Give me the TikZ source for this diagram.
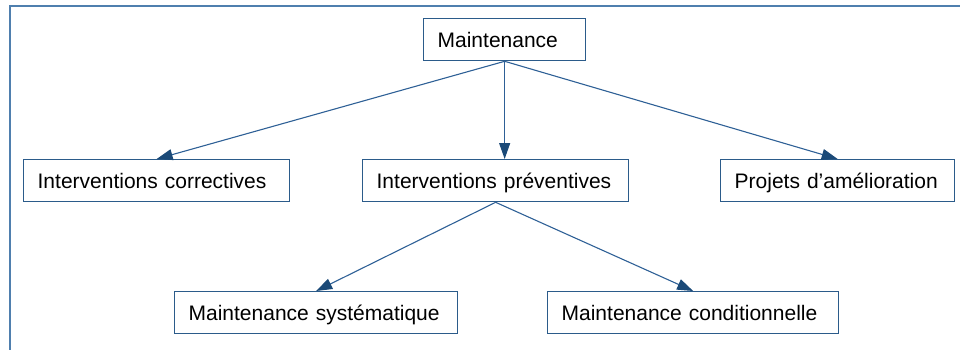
\documentclass[tikz,border=0pt]{standalone}
\usepackage{fontspec}
\setmainfont{Liberation Sans}
\usetikzlibrary{arrows.meta}
\definecolor{framecol}{HTML}{4F7FAE}
\definecolor{boxcol}{HTML}{2B5B8A}
\definecolor{linkcol}{HTML}{2E6096}
\definecolor{tipcol}{HTML}{1B4A78}
\tikzset{
  box/.style={draw=boxcol, line width=1.3pt, fill=white, anchor=north west,
    align=left, inner xsep=14pt, inner ysep=0pt, minimum height=42pt,
    font=\fontsize{21}{25}\selectfont, text height=18pt, text depth=2pt},
  link/.style={draw=linkcol, line width=1.1pt,
    -{Triangle[length=16pt,width=11pt,fill=tipcol,color=tipcol]}}
}
\begin{document}
\begin{tikzpicture}[x=1pt,y=-1pt]
\useasboundingbox (0,0) rectangle (960,350);
% open frame: top and left edges
\draw[framecol, line width=2pt] (10,350) -- (10,6) -- (960,6);
% boxes
\node[box, text width=134pt] (m)  at (423,18)  {Maintenance};
\node[box, text width=238pt] (ic) at (23,159)  {Interventions correctives};
\node[box, text width=238pt] (ip) at (362,159) {Interventions préventives};
\node[box, text width=206pt] (pa) at (720,159) {Projets d’amélioration};
\node[box, text width=255pt] (ms) at (174,291) {Maintenance systématique};
\node[box, text width=263pt] (mc) at (547,291) {Maintenance conditionnelle};
% connectors
\draw[link] (m.south) -- (ic.north);
\draw[link] (m.south) -- (m.south |- ip.north);
\draw[link] (m.south) -- (pa.north);
\draw[link] (ip.south) -- (ms.north);
\draw[link] (ip.south) -- (mc.north);
\end{tikzpicture}
\end{document}
